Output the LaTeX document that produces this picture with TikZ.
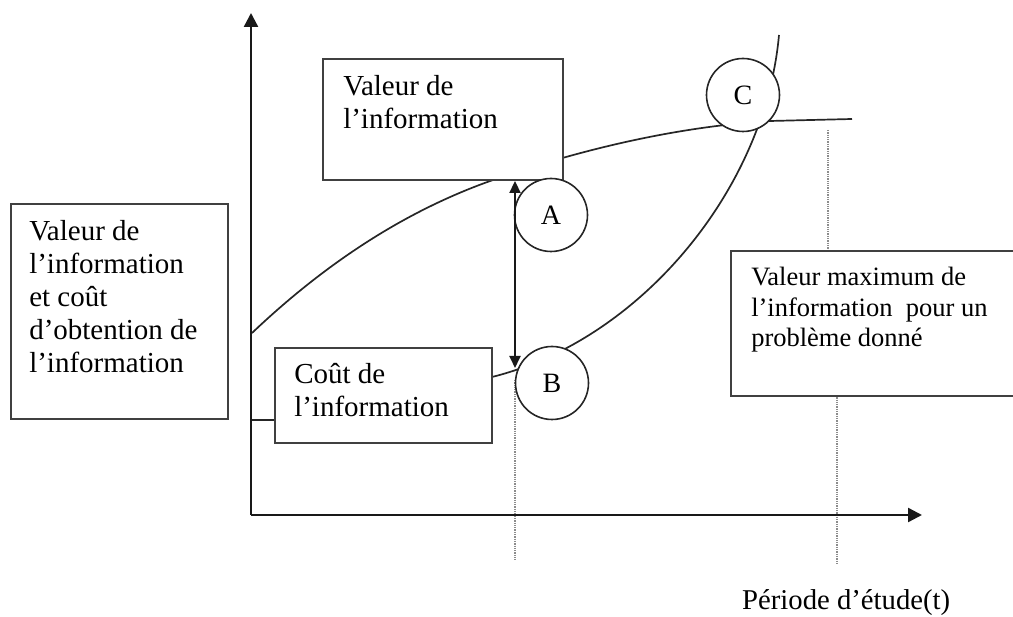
\documentclass[tikz,border=0pt]{standalone}
\usepackage{fontspec}
\setmainfont{Liberation Serif}
\usetikzlibrary{arrows.meta}

\begin{document}
\begin{tikzpicture}[
		x=1pt, y=-1pt,
		box/.style={rectangle, draw=black!75, line width=1.9pt, fill=white, inner sep=0pt},
		boxline/.style={draw=black!75, line width=1.9pt},
		boxtext/.style={anchor=north west, align=left, inner sep=0pt, font=\fontsize{29}{33}\selectfont},
		spot/.style={circle, draw=black!85, line width=1.6pt, fill=white, minimum size=73pt, inner sep=0pt, font=\fontsize{28}{30}\selectfont},
		curve/.style={line width=1.7pt, black!85},
		axis/.style={-{Triangle[length=14pt,width=14pt]}, line width=2.4pt, black!90},
		gap/.style={{Triangle[length=12pt,width=11pt]}-{Triangle[length=12pt,width=11pt]}, line width=1.9pt, black!90},
		guide/.style={densely dotted, black!45, line width=1.3pt}
		]
		
		\useasboundingbox (0,0) rectangle (1013,617);
		
		\coordinate (O) at (251,515);
		\coordinate (ytop) at (251,13);
		\coordinate (xend) at (922,515);
		\coordinate (bpt) at (515,368);
		
		\draw[guide] (515,380) -- (515,560);
		\draw[guide] (828,130) -- (828,252);
		\draw[guide] (837,395) -- (837,563);
		
		\draw[curve] (252,333) .. controls (332,257) and (413,208) .. (493,180)
			.. controls (583,148.5) and (680,126.4) .. (770,121) -- (852,119);
		\draw[curve] (492,377) .. controls (640,340) and (765,190) .. (779,35);
		
		\node[box, minimum width=240pt, minimum height=121pt] (valeur) at (443,119.5) {};
		\node[box, minimum width=217pt, minimum height=215pt] (axe) at (119.5,311.5) {};
		\node[box, minimum width=217pt, minimum height=95pt] (cout) at (383.5,395.5) {};
		\node[box, draw=none, minimum width=281pt, minimum height=143pt] (maxi) at (872.5,323.5) {};
		\draw[boxline] (maxi.north east) -- (maxi.north west) -- (maxi.south west) -- (maxi.south east);
		
		\node[boxtext] (valeurtxt) at ([shift={(21,17)}]valeur.north west) {Valeur de\\l’information};
		\node[boxtext] (axetxt) at ([shift={(19,17)}]axe.north west) {Valeur de\\l’information\\et coût\\d’obtention de\\l’information};
		\node[boxtext] (couttxt) at ([shift={(20,16)}]cout.north west) {Coût de\\l’information};
		\node[boxtext, font=\fontsize{26.5}{30.5}\selectfont] (maxitxt) at ([shift={(20,16)}]maxi.north west) {Valeur maximum de\\l’information\ \ pour un\\problème donné};
		
		\node[spot] (A) at (551,215) {A};
		\node[spot] (B) at (552,383) {B};
		\node[spot] (C) at (743,95) {C};
		
		\draw[curve] (axe.south -| O) -- (axe.south -| cout.west);
		\draw[gap] (bpt) -- (valeur.south -| bpt);
		
		\draw[axis] (O) -- (ytop);
		\draw[axis] (O) -- (xend);
		
		\node[anchor=west, inner sep=0pt, font=\fontsize{28.7}{33}\selectfont] (periode) at (742,603) {Période d’étude(t)};
		
	\end{tikzpicture}
\end{document}
